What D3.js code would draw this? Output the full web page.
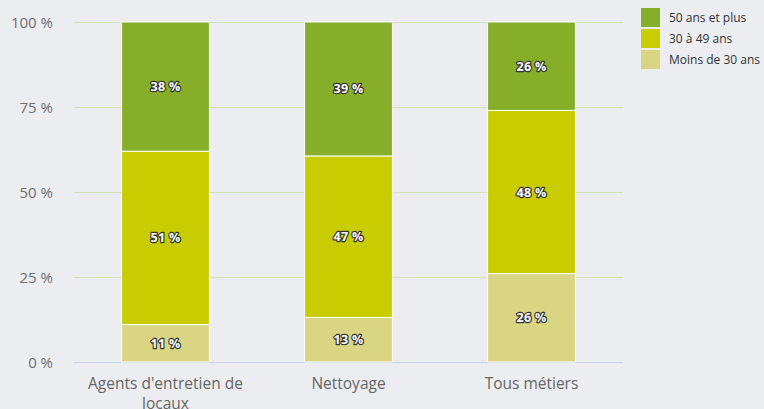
<!DOCTYPE html>
<html>
<head>
<meta charset="utf-8">
<script src="https://cdn.jsdelivr.net/npm/d3@7"></script>
<style>
  body { margin: 0; background: #ebedf0; }
  svg { display: block; font-family: "Open Sans", sans-serif; }
  .val { font-size: 12.5px; font-weight: bold; fill: #fff; paint-order: stroke; stroke: #333; stroke-width: 2.4px; stroke-linejoin: round; letter-spacing: 0.3px; }
</style>
</head>
<body>
<svg width="764" height="409"></svg>
<script>
const categories = ["Agents d'entretien de locaux", "Nettoyage", "Tous métiers"];
const seriesNames = ["Moins de 30 ans", "30 à 49 ans", "50 ans et plus"];
const moins30 = [11, 13, 26];
const de30a49 = [51, 47, 48];
const plus50 = [38, 39, 26];
const yTicks = [0, 25, 50, 75, 100];
const colors = ["#d9d583", "#c8cc00", "#86ae29"];

const rows = categories.map((c, i) => ({
  cat: c, "Moins de 30 ans": moins30[i], "30 à 49 ans": de30a49[i], "50 ans et plus": plus50[i]
}));

const svg = d3.select("svg");
const plotLeft = 74, plotRight = 623, plotTop = 22, plotBottom = 362;

const x = d3.scaleBand().domain(categories).range([plotLeft, plotRight]).paddingInner(0.52).paddingOuter(0.26);
const y = d3.scaleLinear().domain([0, 1]).range([plotBottom, plotTop]);
const color = d3.scaleOrdinal().domain(seriesNames).range(colors);

const stack = d3.stack().keys(seriesNames).offset(d3.stackOffsetExpand);
const series = stack(rows);

// grid
svg.append("g")
  .selectAll("line")
  .data(yTicks.filter(t => t > 0))
  .join("line")
  .attr("x1", plotLeft).attr("x2", plotRight)
  .attr("y1", d => y(d / 100) + 0.5).attr("y2", d => y(d / 100) + 0.5)
  .attr("stroke", "#d3e2b4").attr("stroke-width", 1);

// baseline
svg.append("line")
  .attr("x1", plotLeft).attr("x2", plotRight)
  .attr("y1", plotBottom + 0.5).attr("y2", plotBottom + 0.5)
  .attr("stroke", "#c9d3e6");

// y labels
svg.append("g")
  .selectAll("text")
  .data(yTicks)
  .join("text")
  .attr("x", 53).attr("y", d => y(d / 100) + 5.5)
  .attr("text-anchor", "end")
  .attr("font-size", 15).attr("fill", "#707070")
  .text(d => d + " %");

// bars
const groups = svg.append("g")
  .selectAll("g")
  .data(series)
  .join("g")
  .attr("fill", d => color(d.key));

groups.selectAll("rect")
  .data(d => d)
  .join("rect")
  .attr("x", d => x(d.data.cat))
  .attr("width", x.bandwidth())
  .attr("y", d => y(d[1]))
  .attr("height", d => y(d[0]) - y(d[1]))
  .attr("stroke", "#fff").attr("stroke-width", 1);

// value labels
series.forEach(s => {
  svg.append("g")
    .selectAll("text")
    .data(s)
    .join("text")
    .attr("class", "val")
    .attr("x", d => x(d.data.cat) + x.bandwidth() / 2)
    .attr("y", d => (y(d[0]) + y(d[1])) / 2 + 4.5)
    .attr("text-anchor", "middle")
    .text(d => d.data[s.key] + " %");
});

// x labels (wrapped)
const wrapWidth = 175;
svg.append("g")
  .selectAll("text")
  .data(categories)
  .join("text")
  .attr("x", d => x(d) + x.bandwidth() / 2)
  .attr("y", 389)
  .attr("text-anchor", "middle")
  .attr("font-size", 15.5).attr("fill", "#666")
  .each(function (d) {
    const t = d3.select(this);
    const words = d.split(" ");
    let line = [];
    let tspan = t.append("tspan").attr("x", t.attr("x")).attr("dy", 0);
    words.forEach(w => {
      line.push(w);
      tspan.text(line.join(" "));
      if (tspan.node().getComputedTextLength() > wrapWidth && line.length > 1) {
        line.pop();
        tspan.text(line.join(" "));
        line = [w];
        tspan = t.append("tspan").attr("x", t.attr("x")).attr("dy", 19.5).text(w);
      }
    });
  });

// legend
const legend = svg.append("g")
  .selectAll("g")
  .data(seriesNames.slice().reverse())
  .join("g")
  .attr("transform", (d, i) => `translate(641, ${8 + i * 21})`);

legend.append("rect")
  .attr("width", 19).attr("height", 19)
  .attr("fill", d => color(d));

legend.append("text")
  .attr("x", 28).attr("y", 14)
  .attr("font-size", 12).attr("fill", "#333")
  .text(d => d);
</script>
</body>
</html>
